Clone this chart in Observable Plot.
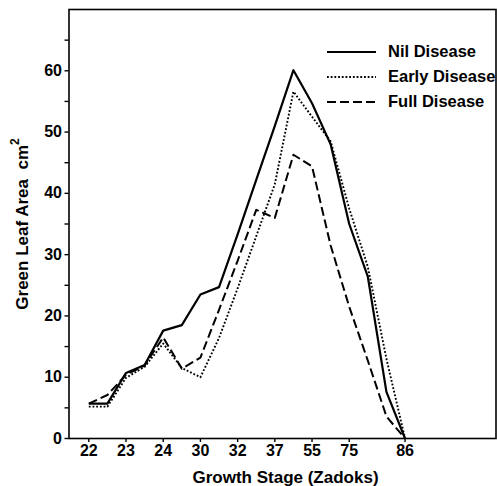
<!DOCTYPE html>
<html><head><meta charset="utf-8">
<script src="https://cdn.jsdelivr.net/npm/d3@7"></script>
<script src="https://cdn.jsdelivr.net/npm/@observablehq/plot@0.6"></script>
<style>
body{margin:0;background:#fff;}
#chart{position:relative;width:497px;height:486px;font-family:"Liberation Sans",Arial,sans-serif;font-weight:bold;color:#000;}
#legend{position:absolute;left:327px;top:39px;font-size:16.5px;}
#legend .row{display:flex;align-items:center;height:25px;white-space:nowrap;}
#legend svg{display:block;margin-right:12px;}
</style></head><body><div id="chart"></div>
<script>
// Sampling occasions (index along the x axis) and the Zadoks stage labels shown
const sampleIndex = [0,1,2,3,4,5,6,7,8,9,10,11,12,13,14,15,16,17];
const stageIndex  = [0,2,4,6,8,10,12,14,17];
const stageLabels = ["22","23","24","30","32","37","55","75","86"];

// Green leaf area (cm²)
const nilDisease   = [5.7,5.7,10.7,12.0,17.6,18.5,23.5,24.7,33.3,42.2,51.0,60.1,54.7,48.0,35.0,26.4,7.6,0];
const earlyDisease = [5.2,5.2,9.9,11.7,15.5,11.5,10.0,16.4,24.5,33.0,41.5,56.6,52.5,48.5,37.5,28.0,13.0,0];
const fullDisease  = [5.7,7.1,10.4,11.9,16.5,11.4,13.2,21.0,29.0,37.3,36.0,46.3,44.4,31.5,21.5,12.7,3.6,0];

const seriesNames = ["Nil Disease","Early Disease","Full Disease"];
const seriesValues = [nilDisease, earlyDisease, fullDisease];
const seriesStyles = [
  {strokeWidth:2.2, strokeDasharray:null},
  {strokeWidth:1.9, strokeDasharray:"1.8,1.9"},
  {strokeWidth:2, strokeDasharray:"9,4"}
];
const yTicks = d3.range(0, 70, 5);

const lineMarks = seriesValues.map((vals, k) => Plot.line(vals, {
  x: (d, i) => sampleIndex[i],
  y: d => d,
  stroke: "black",
  strokeWidth: seriesStyles[k].strokeWidth,
  strokeDasharray: seriesStyles[k].strokeDasharray,
  strokeLinecap: "butt"
}));

const svg = Plot.plot({
  width: 497, height: 486,
  marginLeft: 68.5, marginRight: 1.5, marginTop: 9, marginBottom: 48,
  style: {fontFamily: '"Liberation Sans", Arial, sans-serif', fontWeight: "bold", fontSize: "16px", background: "white", color: "black", overflow: "visible"},
  x: {domain: [-1.065, 21.89]},
  y: {domain: [0, 70]},
  marks: [
    Plot.axisX(stageIndex, {tickFormat: d => stageLabels[stageIndex.indexOf(d)], tickSize: 4, tickPadding: 2, strokeWidth: 1.4, label: null}),
    Plot.axisY(yTicks, {tickFormat: d => d % 10 === 0 ? String(d) : "", tickSize: 4, tickPadding: 3, strokeWidth: 1.4, label: null}),
    ...lineMarks,
    Plot.frame({stroke: "black", strokeWidth: 1.6}),
    Plot.text(["Growth Stage (Zadoks)"], {frameAnchor: "bottom", dy: 44, dx: 3, text: d => d, fontSize: 17, fill: "black"})
  ]
});

// y-axis title with superscript
const yt = d3.select(svg).append("text")
  .attr("transform", "translate(21.5,224) rotate(-90)")
  .attr("text-anchor", "middle")
  .attr("dominant-baseline", "central")
  .attr("fill", "black")
  .style("font-size", "17px")
  .style("font-weight", "bold");
yt.append("tspan").text("Green Leaf Area\u00A0\u00A0cm");
yt.append("tspan").attr("baseline-shift", "super").style("font-size", "12px").text("2");

const chart = document.getElementById("chart");
chart.appendChild(svg);

// legend overlay
const legend = document.createElement("div");
legend.id = "legend";
seriesNames.forEach((name, k) => {
  const row = document.createElement("div");
  row.className = "row";
  const sw = d3.create("svg").attr("width", 49).attr("height", 10);
  sw.append("line").attr("x1", 0).attr("x2", 49).attr("y1", 5).attr("y2", 5)
    .attr("stroke", "black").attr("stroke-width", seriesStyles[k].strokeWidth)
    .attr("stroke-dasharray", seriesStyles[k].strokeDasharray);
  row.appendChild(sw.node());
  const span = document.createElement("span");
  span.textContent = name;
  row.appendChild(span);
  legend.appendChild(row);
});
chart.appendChild(legend);
</script></body></html>
